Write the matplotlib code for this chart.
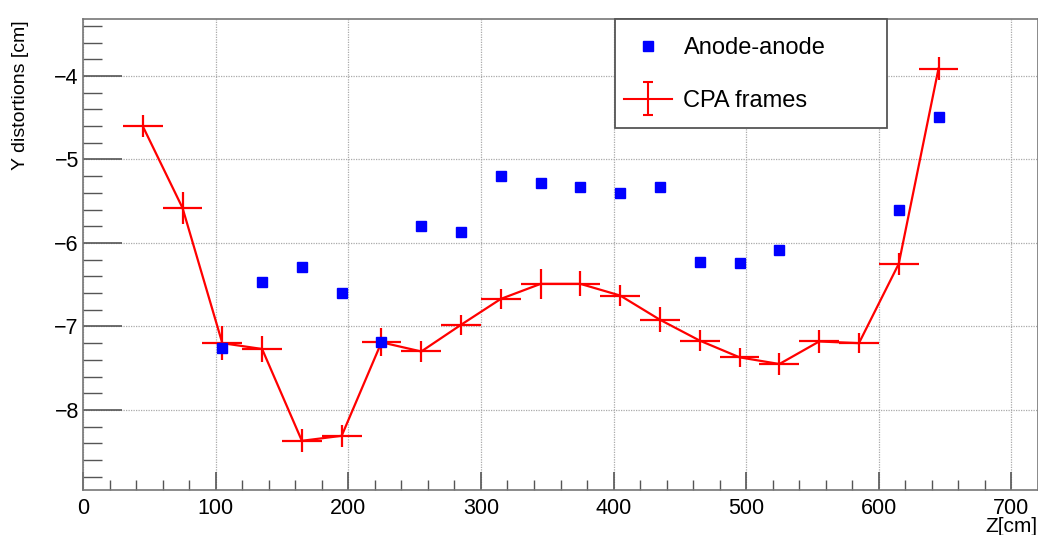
import matplotlib
matplotlib.use("Agg")
import numpy as np
import matplotlib.pyplot as plt
from matplotlib.ticker import MultipleLocator
from matplotlib.patches import Rectangle
from matplotlib.container import ErrorbarContainer
from matplotlib.legend_handler import HandlerErrorbar

plt.rcParams['font.family'] = ['Liberation Sans', 'DejaVu Sans']

# CPA frames
cpa_z = [45, 75, 105, 135, 165, 195, 225, 255, 285, 315, 345, 375, 405, 435,
         465, 495, 525, 555, 585, 615, 645]
cpa_y = [-4.60, -5.58, -7.20, -7.27, -8.37, -8.31, -7.19, -7.30, -6.98, -6.67,
         -6.49, -6.49, -6.63, -6.92, -7.17, -7.37, -7.45, -7.18, -7.20, -6.25, -3.91]
cpa_yerr = [0.13, 0.19, 0.20, 0.16, 0.14, 0.13, 0.17, 0.12, 0.12, 0.12,
            0.18, 0.15, 0.13, 0.15, 0.13, 0.11, 0.13, 0.14, 0.12, 0.13, 0.14]
cpa_zerr = [15] * len(cpa_z)

# Anode-anode
an_z = [105, 135, 165, 195, 225, 255, 285, 315, 345, 375, 405, 435, 465, 495,
        525, 615, 645]
an_y = [-7.26, -6.47, -6.29, -6.60, -7.19, -5.80, -5.87, -5.20, -5.28, -5.33,
        -5.40, -5.33, -6.23, -6.24, -6.08, -5.60, -4.49]

W, H = 1038, 535
fig = plt.figure(figsize=(W / 100, H / 100), dpi=100)
ax_l, ax_b, ax_w, ax_h = 0.080, 0.084, 0.920, 0.880
ax = fig.add_axes([ax_l, ax_b, ax_w, ax_h])

ax.errorbar(cpa_z, cpa_y, xerr=cpa_zerr, yerr=cpa_yerr, color='#ff0000',
            lw=1.6, elinewidth=1.6, capsize=0, zorder=3)
ax.plot(an_z, an_y, 's', color='#0000ff', ms=7.5, mec='#0000ff', zorder=4,
        linestyle='none')

ax.set_xlim(0, 720)
ax.set_ylim(-8.96, -3.32)

ax.xaxis.set_major_locator(MultipleLocator(100))
ax.xaxis.set_minor_locator(MultipleLocator(20))
ax.yaxis.set_major_locator(MultipleLocator(1))
ax.yaxis.set_minor_locator(MultipleLocator(0.2))
ax.tick_params(axis='both', which='both', direction='in', top=False, right=False,
               color='#555555', labelsize=15.5)
ax.tick_params(axis='x', which='major', length=13, width=1.2, pad=6)
ax.tick_params(axis='x', which='minor', length=7, width=1)
ax.tick_params(axis='y', which='major', length=28, width=1.2, pad=3)
ax.tick_params(axis='y', which='minor', length=14, width=1)

ax.grid(True, which='major', linestyle=(0, (1, 1)), color='#aaaaaa', lw=0.9)
ax.set_axisbelow(True)
for s in ax.spines.values():
    s.set_color('#777777')
    s.set_linewidth(1.2)

ax.set_ylabel('Y distortions [cm]', fontsize=14)
ax.yaxis.set_label_coords(-0.057, 0.998)
ax.yaxis.label.set_ha('right')
ax.set_xlabel('Z[cm]', fontsize=15)
ax.xaxis.set_label_coords(0.999, -0.058)
ax.xaxis.label.set_ha('right')

# legend (pixel geometry converted to axes fraction)
def ax_x(px):
    return (px - ax_l * W) / (ax_w * W)

def ax_y(py):
    return ((1 - ax_b) * H - py) / (ax_h * H)

h_an, = ax.plot([np.nan], [np.nan], 's', color='#0000ff', ms=7.5, linestyle='none')
h_cpa = ax.errorbar([np.nan], [np.nan], yerr=[1.0], color='#ff0000',
                    lw=1.5, elinewidth=1.5, capsize=3.5, capthick=1.5)
leg = ax.legend([h_an, h_cpa], ['Anode-anode', 'CPA frames'],
                loc='upper left', bbox_to_anchor=(ax_x(615), ax_y(28)),
                fontsize=17, frameon=False,
                borderaxespad=0, borderpad=0.4, labelspacing=1.29,
                handlelength=2.03, handletextpad=0.47,
                handler_map={ErrorbarContainer: HandlerErrorbar(xerr_size=0.5, yerr_size=0.7)})
frame = Rectangle((ax_x(615), ax_y(128)), ax_x(887) - ax_x(615),
                  ax_y(19) - ax_y(128), transform=ax.transAxes,
                  facecolor='white', edgecolor='#555555', lw=1.3, zorder=4.5,
                  clip_on=False)
ax.add_patch(frame)
leg.set_zorder(5)

fig.savefig('out.png', dpi=100, facecolor='white')
